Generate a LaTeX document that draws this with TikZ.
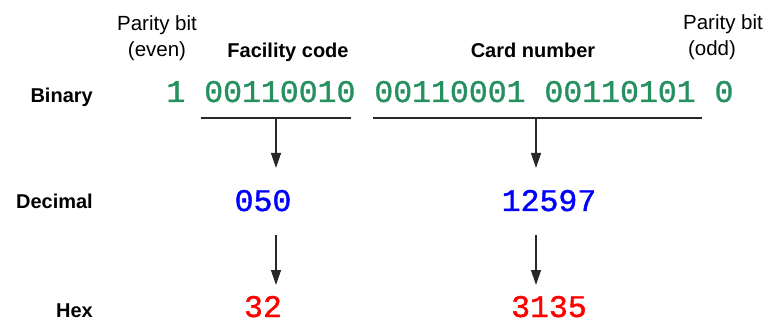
\documentclass[tikz,border=0pt]{standalone}
\usepackage{fontspec}
\setmainfont{Liberation Sans}
\setmonofont[FakeBold=1.2]{Liberation Mono}
\usetikzlibrary{arrows.meta}
\definecolor{bitgreen}{RGB}{38,145,95}
\definecolor{decblue}{RGB}{0,0,255}
\definecolor{hexred}{RGB}{255,0,0}
\definecolor{linegray}{RGB}{40,40,40}
\tikzset{
  rowlabel/.style={font=\fontsize{20}{24}\selectfont\bfseries, anchor=base east, inner sep=0pt},
  fieldlabel/.style={font=\fontsize{20}{24}\selectfont\bfseries, anchor=base, inner sep=0pt},
  paritylabel/.style={font=\fontsize{20.5}{24}\selectfont, anchor=base, inner sep=0pt, align=center},
  digits/.style={font=\fontsize{31.5}{36}\ttfamily, anchor=base, inner sep=0pt, text depth=0pt},
  bracket/.style={draw=linegray, line width=1.1pt},
  convarrow/.style={draw=linegray, line width=1.3pt, -{Triangle[length=15pt,width=10pt]}}
}
\begin{document}
\begin{tikzpicture}[x=1pt, y=-1pt]
\useasboundingbox (0,0) rectangle (768,323);

% row labels
\node[rowlabel] (lbin) at (93,103) {Binary};
\node[rowlabel] (ldec) at (93,208.5) {Decimal};
\node[rowlabel] (lhex) at (93,317) {Hex};

% field headings
\node[paritylabel] (peven1) at (157,31) {Parity bit};
\node[paritylabel] (peven2) at (157,57) {(even)};
\node[fieldlabel] (fchead) at (288,58) {Facility code};
\node[fieldlabel] (cnhead) at (533,58) {Card number};
\node[paritylabel] (podd1) at (723,30) {Parity bit};
\node[paritylabel] (podd2) at (712,56) {(odd)};

% binary string
\node[digits, text=bitgreen] (bits) at (450,102) {1 00110010 00110001 00110101 0};

% brackets under the two fields
\coordinate (fcL) at (201,118);
\coordinate (fcR) at (351,118);
\coordinate (cnL) at (373,118);
\coordinate (cnR) at (702,118);
\draw[bracket] (fcL) -- (fcR);
\draw[bracket] (cnL) -- (cnR);

% decimal and hex values
\node[digits, text=decblue] (fcdec) at (263,211) {050};
\node[digits, text=decblue] (cndec) at (549,211) {12597};
\node[digits, text=hexred] (fchex) at (263,317) {32};
\node[digits, text=hexred] (cnhex) at (549,317) {3135};

% conversion arrows
\coordinate (fcA0) at (276,118);
\coordinate (fcA1) at (276,168);
\coordinate (fcB0) at (276,235);
\coordinate (fcB1) at (276,285);
\coordinate (cnA0) at (536,118);
\coordinate (cnA1) at (536,168);
\coordinate (cnB0) at (536,235);
\coordinate (cnB1) at (536,285);
\draw[convarrow] (fcA0) -- (fcA1);
\draw[convarrow] (fcB0) -- (fcB1);
\draw[convarrow] (cnA0) -- (cnA1);
\draw[convarrow] (cnB0) -- (cnB1);
\end{tikzpicture}
\end{document}
